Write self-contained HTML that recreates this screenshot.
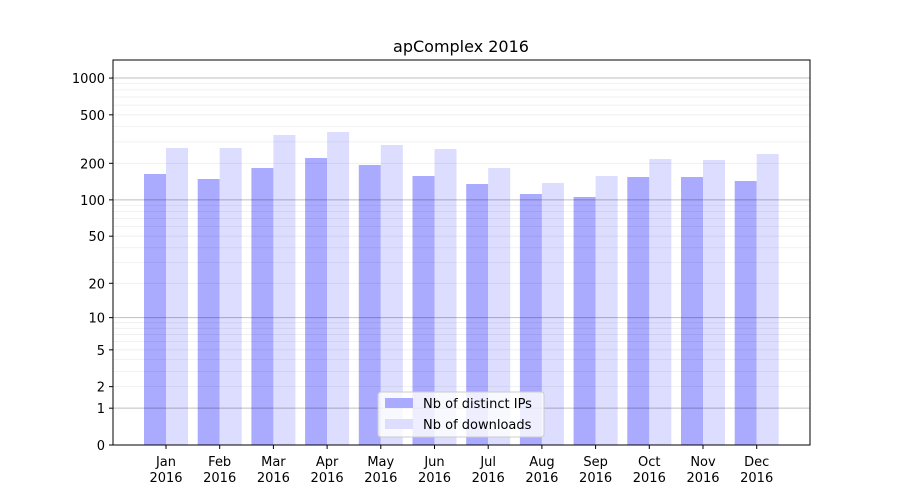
<!DOCTYPE html>
<html><head><meta charset="utf-8"><style>
body{margin:0;background:#fff}
svg{display:block;font-family:"DejaVu Sans","Liberation Sans",sans-serif}
</style></head><body>
<svg id="s" width="900" height="500" xmlns="http://www.w3.org/2000/svg">
<rect width="900" height="500" fill="#fff"/>
<g id="bars"></g>
<g id="grid"></g>
<rect x="113" y="60" width="697" height="385" fill="none" stroke="#000" stroke-width="1"/>
<g id="ticks" font-size="13" fill="#000"></g>
<text x="461" y="52" font-size="16" text-anchor="middle">apComplex 2016</text>
<g>
<rect x="378" y="392" width="166" height="45" rx="3" fill="#fff" fill-opacity="0.8" stroke="#ccc"/>
<rect x="385" y="398" width="28" height="10" fill="#aaaaff"/>
<rect x="385" y="419" width="28" height="10" fill="#ddddff"/>
<text x="423" y="408" font-size="13">Nb of distinct IPs</text>
<text x="423" y="429" font-size="13">Nb of downloads</text>
</g>
</svg>
<script>
var NS="http://www.w3.org/2000/svg";
function Y(v){return 445-122.3*Math.log10(1+v);}
function el(p,t,a,txt){var e=document.createElementNS(NS,t);for(var k in a)e.setAttribute(k,a[k]);if(txt!=null)e.textContent=txt;document.getElementById(p).appendChild(e);return e;}
[1,10,100,1000].forEach(function(d){for(var i=2;i<10;i++){var v=d*i;if(Y(v)<60)break;var y=Y(v);el("grid","line",{x1:113,x2:810,y1:y,y2:y,stroke:"#000","stroke-opacity":0.07,"stroke-width":0.8});}});
[1,10,100,1000].forEach(function(v){var y=Y(v);el("grid","line",{x1:113,x2:810,y1:y,y2:y,stroke:"#000","stroke-opacity":0.25,"stroke-width":1});});
[0,1,2,5,10,20,50,100,200,500,1000].forEach(function(v){var y=Y(v);el("ticks","line",{x1:109,x2:113,y1:y,y2:y,stroke:"#000"});el("ticks","text",{x:105,y:y+5,"text-anchor":"end"},v);});
var m=["Jan","Feb","Mar","Apr","May","Jun","Jul","Aug","Sep","Oct","Nov","Dec"];
var b=[174,179,168,158,165,176,184,194,197,177,177,181];
var l=[148,148,135,132,145,149,168,183,176,159,160,154];
for(var i=0;i<12;i++){var c=166+i*53.7;
el("bars","rect",{x:c-22,y:b[i],width:22,height:445-b[i],fill:"#aaaaff"});
el("bars","rect",{x:c,y:l[i],width:22,height:445-l[i],fill:"#ddddff"});
el("ticks","line",{x1:c,x2:c,y1:445,y2:449,stroke:"#000"});
el("ticks","text",{x:c,y:466,"text-anchor":"middle"},m[i]);
el("ticks","text",{x:c,y:482,"text-anchor":"middle"},"2016");}
</script>
</body></html>
